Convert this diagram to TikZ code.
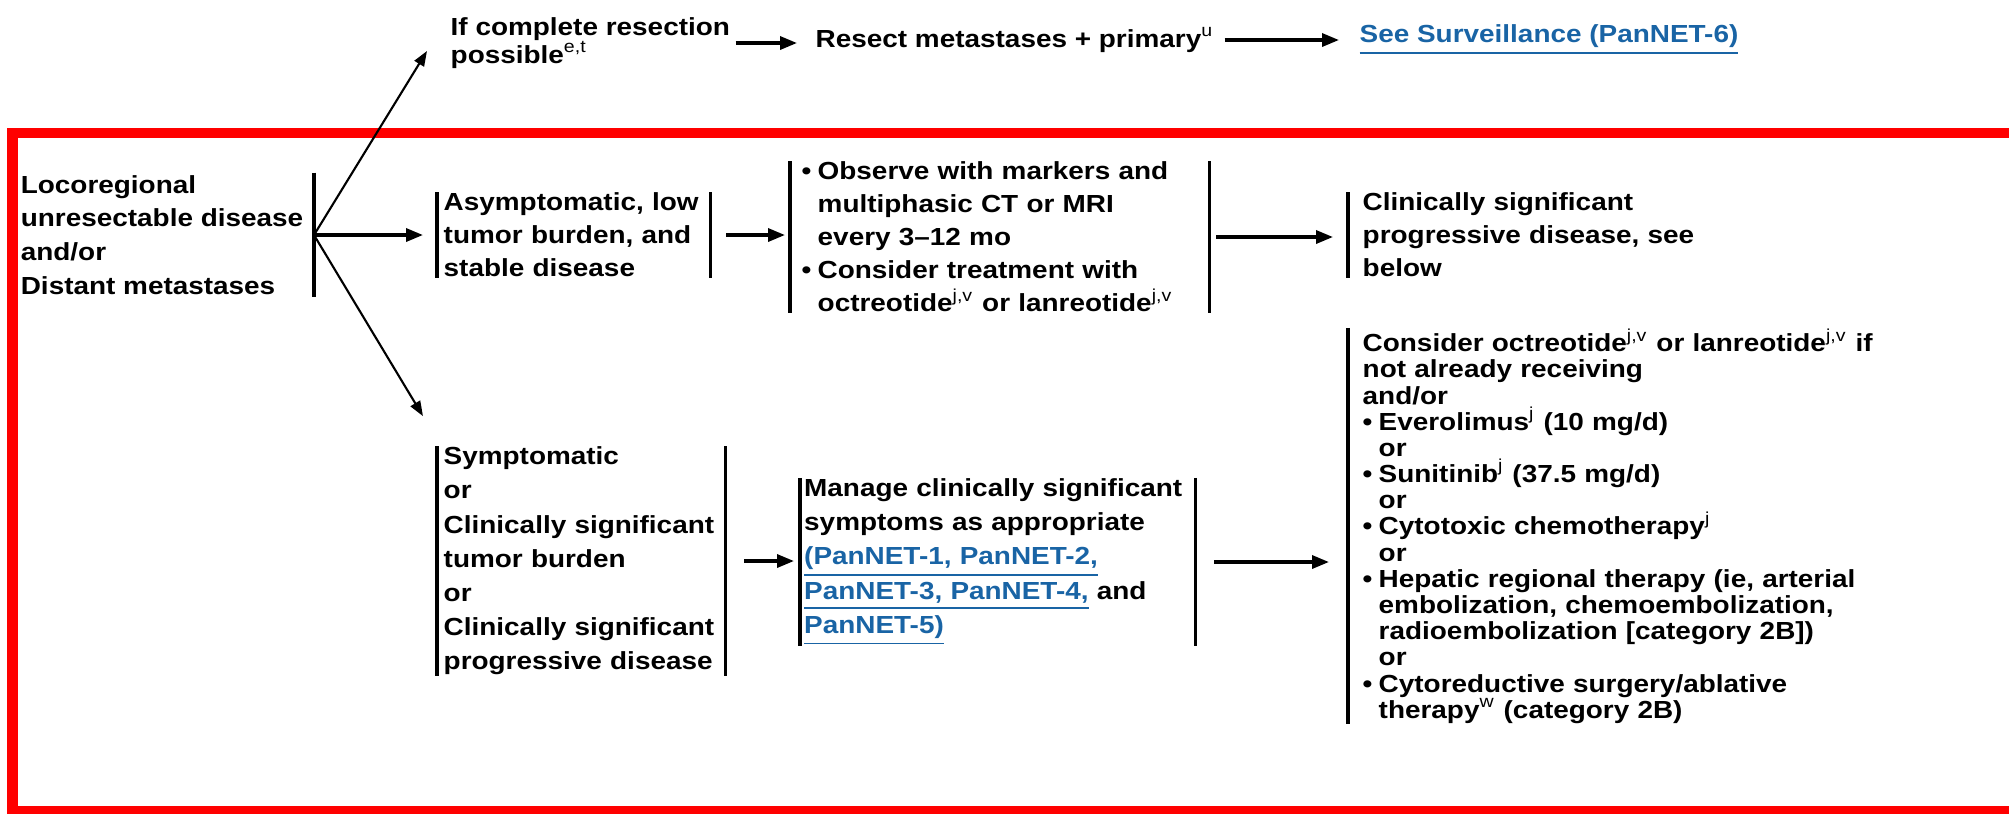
\documentclass[tikz,border=0pt]{standalone}
\usepackage{fontspec}
\setmainfont{Liberation Sans}[FakeStretch=1.13]
\usetikzlibrary{arrows.meta}
\definecolor{linkblue}{RGB}{25,100,165}
\newcommand{\lnk}[1]{\textcolor{linkblue}{\underline{#1}}}
\newcommand{\sps}[1]{\textsuperscript{\mdseries #1}}
\newcommand{\bul}{\makebox[0.16cm][l]{\textbullet}}
\newcommand{\ind}{\hspace*{0.16cm}}

\begin{document}
\begin{tikzpicture}[
    txt/.style={align=left, inner xsep=0pt, inner ysep=0pt,
        font=\bfseries\fontsize{7.03}{9.39}\selectfont},
    bar/.style={line width=1pt},
    arr/.style={-{Triangle[length=0.17cm,width=0.13cm]}, line width=0.95pt},
    thinarr/.style={-{Triangle[length=0.15cm,width=0.11cm]}, line width=0.6pt}]
    \path[use as bounding box, clip] (0,0) rectangle (20.09,-8.13);

    % red frame round the unresectable branch
    \draw[red, line width=0.105cm] (0.125,-1.33) rectangle (20.5,-8.115);

    \node[txt, anchor=east, inner xsep=0.1cm, inner ysep=0.02cm,
        font=\bfseries\fontsize{7.03}{9.6}\selectfont] (start) at (3.14,-2.35)
        {Locoregional\\unresectable disease\\and/or\\Distant metastases};

    \node[txt, anchor=west, font=\bfseries\fontsize{7.03}{7.97}\selectfont] (ifres) at (4.50,-0.43)
        {If complete resection\\possible\sps{e,t}};
    \node[txt, anchor=west] (resect) at (8.15,-0.40) {Resect metastases + primary\sps{u}};
    \node[txt, anchor=west] (surv) at (13.59,-0.40) {\lnk{See Surveillance (PanNET-6)}};

    \node[txt, anchor=west, inner xsep=0.06cm, text width=2.60cm] (asym) at (4.37,-2.35)
        {Asymptomatic, low\\tumor burden, and\\stable disease};
    \node[txt, anchor=west, inner xsep=0.11cm, text width=3.96cm] (obs) at (7.90,-2.37)
        {\bul Observe with markers and\\\ind multiphasic CT or MRI\\\ind every 3–12 mo\\
         \bul Consider treatment with\\\ind octreotide\sps{j,v} or lanreotide\sps{j,v}};
    \node[txt, anchor=west, inner xsep=0.14cm, text width=4cm] (clin) at (13.48,-2.35)
        {Clinically significant\\progressive disease, see\\below};

    \node[txt, anchor=west, inner xsep=0.06cm, text width=2.75cm,
        font=\bfseries\fontsize{7.03}{9.73}\selectfont] (symp) at (4.37,-5.61)
        {Symptomatic\\or\\Clinically significant\\tumor burden\\or\\Clinically significant\\progressive disease};
    \node[txt, anchor=west, inner xsep=0.035cm, text width=3.87cm,
        font=\bfseries\fontsize{7.03}{9.73}\selectfont] (manage) at (8.00,-5.62)
        {Manage clinically significant\\symptoms as appropriate\\\lnk{(PanNET-1, PanNET-2,}\\
         \lnk{PanNET-3, PanNET-4,} and\\\lnk{PanNET-5)}};
    \node[txt, anchor=west, inner xsep=0.14cm, text width=6cm,
        font=\bfseries\fontsize{7.03}{7.45}\selectfont] (right) at (13.48,-5.26)
        {Consider octreotide\sps{j,v} or lanreotide\sps{j,v} if\\
         not already receiving\\and/or\\
         \bul Everolimus\sps{j} (10 mg/d)\\\ind or\\
         \bul Sunitinib\sps{j} (37.5 mg/d)\\\ind or\\
         \bul Cytotoxic chemotherapy\sps{j}\\\ind or\\
         \bul Hepatic regional therapy (ie, arterial\\\ind embolization, chemoembolization,\\
         \ind radioembolization [category 2B])\\\ind or\\
         \bul Cytoreductive surgery/ablative\\\ind therapy\sps{w} (category 2B)};

    % bars beside the boxes
    \draw[bar] (start.north east) -- (start.south east);
    \draw[bar] (asym.north west) -- (asym.south west);
    \draw[bar] (asym.north east) -- (asym.south east);
    \draw[bar] (obs.north west) -- (obs.south west);
    \draw[bar] (obs.north east) -- (obs.south east);
    \draw[bar] (clin.north west) -- (clin.south west);
    \draw[bar] (symp.north west) -- (symp.south west);
    \draw[bar] (symp.north east) -- (symp.south east);
    \draw[bar] (manage.north west) -- (manage.south west);
    \draw[bar] (manage.north east) -- (manage.south east);
    \draw[bar] (right.north west) -- (right.south west);

    \draw[thinarr] (start.east) -- ([shift={(-0.23,-0.08)}]ifres.west);
    \draw[arr, shorten >=0.14cm] (start.east) -- (start.east -| asym.west);
    \draw[thinarr] (start.east) -- ([shift={(-0.14,0.30)}]symp.north west);

    \draw[arr, shorten <=0.05cm, shorten >=0.18cm] (ifres.east) -- (ifres.east -| resect.west);
    \draw[arr, shorten <=0.1cm, shorten >=0.2cm] (resect.east) -- (resect.east -| surv.west);
    \draw[arr, shorten <=0.16cm, shorten >=0.05cm] (asym.east) -- (asym.east -| obs.west);
    \draw[arr, shorten <=0.07cm, shorten >=0.15cm] (obs.east) -- (obs.east -| clin.west);
    \draw[arr, shorten <=0.19cm, shorten >=0.06cm] (symp.east) -- (symp.east -| manage.west);
    \draw[arr, shorten <=0.19cm, shorten >=0.19cm] (manage.east) -- (manage.east -| right.west);
\end{tikzpicture}
\end{document}
